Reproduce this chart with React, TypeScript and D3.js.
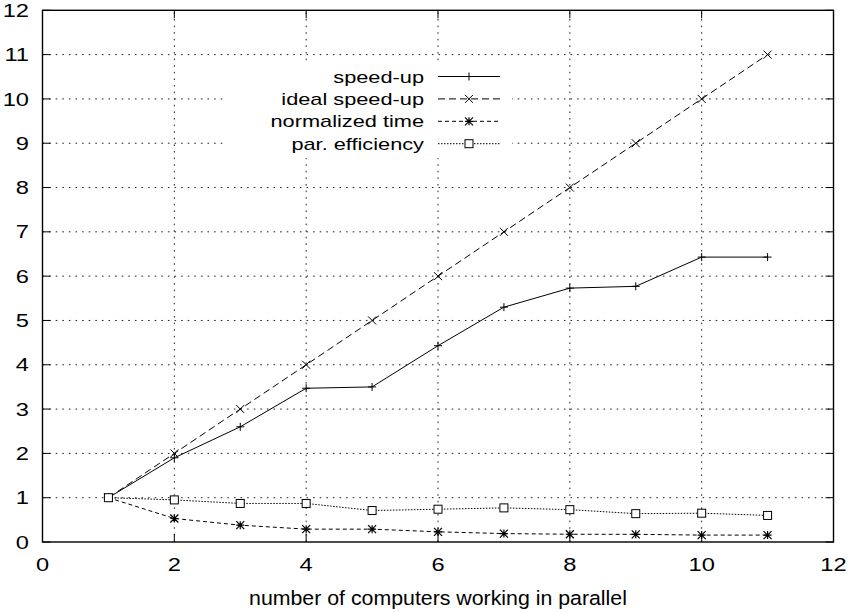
import React from 'react';
import * as d3 from 'd3';

// number of computers
const computers = [1, 2, 3, 4, 5, 6, 7, 8, 9, 10, 11];
const speedUp = [1, 1.9, 2.6, 3.47, 3.5, 4.43, 5.3, 5.73, 5.77, 6.43, 6.43];
const idealSpeedUp = [1, 2, 3, 4, 5, 6, 7, 8, 9, 10, 11];
const normalizedTime = [1, 0.53, 0.38, 0.29, 0.29, 0.23, 0.19, 0.175, 0.173, 0.156, 0.156];
const parEfficiency = [1, 0.95, 0.87, 0.87, 0.71, 0.74, 0.77, 0.73, 0.64, 0.65, 0.6];

const xTicks = [0, 2, 4, 6, 8, 10, 12];
const yTicks = [0, 1, 2, 3, 4, 5, 6, 7, 8, 9, 10, 11, 12];
const xGrid = [2, 4, 6, 8, 10];
const yGrid = [1, 2, 3, 4, 5, 6, 7, 8, 9, 10, 11];

const seriesNames = ['speed-up', 'ideal speed-up', 'normalized time', 'par. efficiency'];

const W = 849;
const H = 612;
const FONT = 'Liberation Sans, Arial, Helvetica, sans-serif';
const STRETCH = 1.28;

const Marker = ({ type, x, y }: { type: string; x: number; y: number }) => {
	const s = 4;
	if (type === 'plus') {
		return (
			<path d={`M${x - s},${y}H${x + s}M${x},${y - s}V${y + s}`} stroke='black' strokeWidth={1} />
		);
	}
	if (type === 'cross') {
		return (
			<path
				d={`M${x - s},${y - s}L${x + s},${y + s}M${x - s},${y + s}L${x + s},${y - s}`}
				stroke='black'
				strokeWidth={1}
			/>
		);
	}
	if (type === 'star') {
		return (
			<path
				d={`M${x - s},${y}H${x + s}M${x},${y - s}V${y + s}M${x - s},${y - s}L${x + s},${y + s}M${x - s},${y + s}L${x + s},${y - s}`}
				stroke='black'
				strokeWidth={1.2}
			/>
		);
	}
	return <rect x={x - s} y={y - s} width={2 * s} height={2 * s} fill='white' stroke='black' strokeWidth={1} />;
};

const App = () => {
	const margin = { left: 42.5, right: W - 833.5, top: 10.3, bottom: H - 542 };
	const xScale = d3.scaleLinear().domain([0, 12]).range([margin.left, W - margin.right]);
	const yScale = d3.scaleLinear().domain([0, 12]).range([H - margin.bottom, margin.top]);

	const series = [
		{ name: seriesNames[0], values: speedUp, dash: undefined, marker: 'plus' },
		{ name: seriesNames[1], values: idealSpeedUp, dash: '7,4', marker: 'cross' },
		{ name: seriesNames[2], values: normalizedTime, dash: '4,3', marker: 'star' },
		{ name: seriesNames[3], values: parEfficiency, dash: '1.5,1.5', marker: 'square' },
	];

	const line = d3
		.line<number>()
		.x((d, i) => xScale(computers[i]))
		.y((d) => yScale(d));

	const x0 = xScale(0);
	const x1 = xScale(12);
	const y0 = yScale(0);
	const y1 = yScale(12);

	// legend key box
	const legend = { x: 224, y: 65, w: 288, h: 93, textX: 424, lineX1: 438, lineX2: 500, rowY: 76.5, rowH: 22.4 };

	return (
		<div style={{ position: 'absolute', left: 0, top: 0 }}>
			<svg width={W} height={H} style={{ display: 'block' }} fontFamily={FONT}>
				<rect width={W} height={H} fill='white' />
				{/* grid */}
				<g className='grid' stroke='#222' strokeWidth={1} strokeDasharray='1.6,5'>
					{yGrid.map((v) => (
						<line key={'gy' + v} x1={x0} x2={x1} y1={yScale(v)} y2={yScale(v)} />
					))}
					{xGrid.map((v) => (
						<line key={'gx' + v} x1={xScale(v)} x2={xScale(v)} y1={y0} y2={y1} />
					))}
				</g>
				{/* legend background */}
				<rect x={legend.x} y={legend.y} width={legend.w} height={legend.h} fill='white' />
				{/* ticks */}
				<g stroke='black' strokeWidth={1}>
					{yTicks.map((v) => (
						<g key={'ty' + v}>
							<line x1={x0} x2={x0 + 8} y1={yScale(v)} y2={yScale(v)} />
							<line x1={x1} x2={x1 - 8} y1={yScale(v)} y2={yScale(v)} />
						</g>
					))}
					{xTicks.map((v) => (
						<g key={'tx' + v}>
							<line x1={xScale(v)} x2={xScale(v)} y1={y0} y2={y0 - 8} />
							<line x1={xScale(v)} x2={xScale(v)} y1={y1} y2={y1 + 8} />
						</g>
					))}
				</g>
				{/* border */}
				<rect x={x0} y={y1} width={x1 - x0} height={y0 - y1} fill='none' stroke='black' strokeWidth={1.4} />
				{/* tick labels */}
				<g fontSize={18.5} fill='black'>
					{yTicks.map((v) => (
						<text
							key={'ly' + v}
							transform={`translate(29, ${yScale(v) + 6.6}) scale(${STRETCH},1)`}
							textAnchor='end'
						>
							{v}
						</text>
					))}
					{xTicks.map((v) => (
						<text
							key={'lx' + v}
							transform={`translate(${xScale(v)}, 571) scale(${STRETCH},1)`}
							textAnchor='middle'
						>
							{v}
						</text>
					))}
				</g>
				{/* axis title */}
				<text
					transform={`translate(${(x0 + x1) / 2}, 605) scale(1.04,1)`}
					textAnchor='middle'
					fontSize={20.5}
				>
					number of computers working in parallel
				</text>
				{/* series */}
				{series.map((s) => (
					<g key={s.name}>
						<path d={line(s.values) || ''} fill='none' stroke='black' strokeWidth={1} strokeDasharray={s.dash} />
						{s.values.map((v, i) => (
							<Marker key={i} type={s.marker} x={xScale(computers[i])} y={yScale(v)} />
						))}
					</g>
				))}
				{/* legend */}
				{series.map((s, i) => {
					const cy = legend.rowY + i * legend.rowH;
					return (
						<g key={'leg' + s.name}>
							<text
								transform={`translate(${legend.textX}, ${cy + 6}) scale(${STRETCH},1)`}
								textAnchor='end'
								fontSize={17}
							>
								{s.name}
							</text>
							<line
								x1={legend.lineX1}
								x2={legend.lineX2}
								y1={cy}
								y2={cy}
								stroke='black'
								strokeWidth={1}
								strokeDasharray={s.dash}
							/>
							<Marker type={s.marker} x={(legend.lineX1 + legend.lineX2) / 2} y={cy} />
						</g>
					);
				})}
			</svg>
		</div>
	);
};

export default App;
